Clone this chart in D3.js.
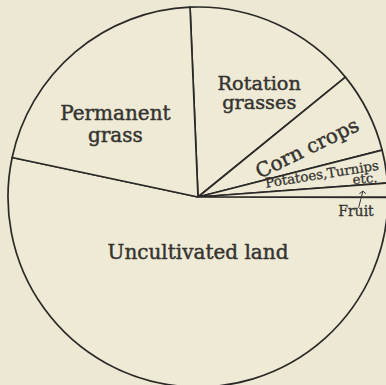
<!DOCTYPE html>
<html><head><meta charset="utf-8">
<script src="https://cdn.jsdelivr.net/npm/d3@7"></script>
<style>
html,body{margin:0;padding:0;background:#ece8d3;}
svg{display:block;}
</style></head>
<body>
<svg id="c" width="386" height="385"></svg>
<script>
const categories = ["Rotation grasses","Corn crops","Potatoes, Turnips etc.","Fruit","Uncultivated land","Permanent grass"];
const values = [14.8, 6.9, 2.8, 1.2, 53.3, 21.0];

const W = 386, H = 385, cx = 198, cy = 197, R = 190;
const svg = d3.select("#c");
svg.append("rect").attr("width", W).attr("height", H).attr("fill", "#ece8d3");
const g = svg.append("g").attr("transform", `translate(${cx},${cy})`);

const start = -2.4 * Math.PI / 180;
const pie = d3.pie().sort(null).value(d => d).startAngle(start).endAngle(2 * Math.PI + start);
const arcs = pie(values);
const arc = d3.arc().innerRadius(0).outerRadius(R);

g.selectAll("path.slice").data(arcs).join("path")
  .attr("class", "slice")
  .attr("d", arc)
  .attr("fill", "#eeead6")
  .attr("stroke", "#2a2926")
  .attr("stroke-width", 1.7)
  .attr("stroke-linejoin", "round");

const font = "DejaVu Serif";
const col = "#35332f";
function polar(angDeg, r) {
  const a = angDeg * Math.PI / 180;
  return [r * Math.sin(a), -r * Math.cos(a)];
}
// label layout: angle (deg, clockwise from top), radius, rotation, font size, lines, line height
const labels = [
  {ang:30.4, r:121, rot:0, size:19.3, lines:["Rotation","grasses"], lh:19},
  {ang:311.3, r:110, rot:0, size:20, lines:["Permanent","grass"], lh:22},
  {ang:65.8, r:119.5, rot:-26, size:20, lines:["Corn crops"], lh:0},
  {ang:79.5, r:126.1, rot:-9, size:13.4, lines:["Potatoes,Turnips"], lh:0},
  {ang:83.7, r:168, rot:-5, size:13.2, lines:["etc."], lh:0},
  {ang:95.1, r:158.6, rot:0, size:14, lines:["Fruit"], lh:0},
  {ang:180, r:55, rot:0, size:20, lines:["Uncultivated land"], lh:0}
];
labels.forEach(L => {
  const [x, y] = polar(L.ang, L.r);
  const t = g.append("text")
    .attr("transform", `translate(${x},${y}) rotate(${L.rot})`)
    .attr("text-anchor", "middle")
    .attr("font-family", font)
    .attr("font-size", L.size)
    .attr("fill", col)
    .attr("stroke", col)
    .attr("stroke-width", L.size > 15 ? 0.45 : 0.3);
  const n = L.lines.length;
  L.lines.forEach((s, k) => {
    t.append("tspan").attr("x", 0)
      .attr("y", (k - (n - 1) / 2) * L.lh)
      .attr("dy", "0.35em")
      .text(s);
  });
});
// small arrow pointing from "Fruit" label to the thin fruit slice
const fa = arcs[3];
const midA = (fa.startAngle + fa.endAngle) / 2 * 180 / Math.PI;
const [ax, ay] = polar(midA, 165);
const [bx, by] = polar(93.8, 161);
g.append("path")
  .attr("d", `M${bx},${by} Q${bx+2},${(by+ay)/2} ${ax},${ay}`)
  .attr("fill", "none").attr("stroke", col).attr("stroke-width", 1);
g.append("path")
  .attr("d", `M${ax-3.5},${ay+2.5} L${ax},${ay} L${ax+3},${ay+2.5}`)
  .attr("fill", "none").attr("stroke", col).attr("stroke-width", 1);
</script>
</body></html>
